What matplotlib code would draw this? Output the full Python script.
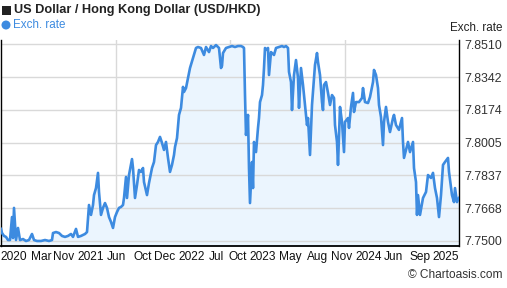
import matplotlib
matplotlib.use("Agg")
import matplotlib.pyplot as plt
from matplotlib.patches import Rectangle, Ellipse

plt.rcParams['font.family'] = ['Liberation Sans', 'DejaVu Sans']

# time position along the chart (arbitrary units, 0..458) and USD/HKD rate
t = [0, 1, 3, 5, 7, 9, 11, 12, 13, 15, 17, 19, 22, 25, 28, 31, 33, 36, 40, 44,
     48, 51, 52, 55, 58, 61, 64, 67, 70, 72, 75, 77, 80, 82, 84, 86, 88, 90, 92, 93,
     95, 97, 98, 100, 102, 104, 106, 108, 110, 112, 114, 116, 118, 120, 122, 123, 125, 126, 128, 131,
     132, 134, 136, 138, 140, 142, 143, 146, 148, 151, 153, 155, 157, 159, 161, 163, 165, 167, 169, 171,
     173, 174, 176, 178, 180, 182, 183, 185, 187, 189, 192, 195, 197, 200, 203, 205, 208, 210, 212, 215,
     218, 220, 221, 222, 225, 228, 231, 234, 237, 240, 242, 243, 244, 245, 247, 248, 249, 251, 252, 253,
     255, 257, 258, 259, 261, 262, 263, 264, 266, 267, 268, 270, 273, 275, 278, 281, 283, 285, 287, 288,
     290, 291, 293, 295, 297, 298, 300, 302, 304, 306, 307, 309, 311, 313, 314, 316, 317, 319, 321, 322,
     323, 325, 327, 329, 331, 333, 334, 336, 337, 339, 341, 343, 344, 347, 348, 350, 352, 353, 355, 358,
     361, 362, 364, 367, 369, 372, 373, 375, 377, 378, 380, 382, 383, 385, 387, 389, 392, 393, 395, 398,
     401, 402, 403, 405, 407, 409, 412, 413, 415, 416, 417, 419, 422, 425, 427, 430, 432, 434, 436, 438,
     440, 442, 444, 447, 448, 451, 453, 454, 456, 458]

rate = [7.7562, 7.7541, 7.7526, 7.7521, 7.7505, 7.7505, 7.7623, 7.7515, 7.7670, 7.7505,
        7.7567, 7.7505, 7.7510, 7.7500, 7.7505, 7.7536, 7.7505, 7.7500, 7.7500, 7.7505,
        7.7500, 7.7505, 7.7541, 7.7546, 7.7541, 7.7526, 7.7521, 7.7526, 7.7536, 7.7521,
        7.7562, 7.7521, 7.7526, 7.7531, 7.7536, 7.7546, 7.7685, 7.7634, 7.7685, 7.7736,
        7.7772, 7.7850, 7.7752, 7.7634, 7.7670, 7.7695, 7.7670, 7.7623, 7.7598, 7.7567,
        7.7623, 7.7649, 7.7670, 7.7675, 7.7685, 7.7721, 7.7829, 7.7721, 7.7839, 7.7921,
        7.7875, 7.7721, 7.7788, 7.7865, 7.7855, 7.7875, 7.7803, 7.7736, 7.7798, 7.7875,
        7.7906, 7.7993, 7.8009, 7.8035, 7.8004, 7.7968, 7.8009, 7.7927, 7.7855, 7.7891,
        7.7942, 7.7983, 7.8029, 7.8148, 7.8184, 7.8292, 7.8266, 7.8286, 7.8338, 7.8389,
        7.8441, 7.8492, 7.8497, 7.8492, 7.8456, 7.8497, 7.8471, 7.8502, 7.8492, 7.8507,
        7.8492, 7.8389, 7.8400, 7.8466, 7.8492, 7.8497, 7.8502, 7.8497, 7.8502, 7.8502,
        7.8497, 7.8492, 7.8250, 7.8045, 7.8148, 7.7875, 7.7695, 7.7906, 7.7772, 7.8009,
        7.7957, 7.8081, 7.8132, 7.8214, 7.8250, 7.8302, 7.8389, 7.8492, 7.8482, 7.8492,
        7.8353, 7.8471, 7.8456, 7.8492, 7.8497, 7.8502, 7.8497, 7.8502, 7.8492, 7.8369,
        7.8317, 7.8173, 7.8353, 7.8430, 7.8338, 7.8184, 7.8389, 7.8302, 7.8199, 7.8096,
        7.8132, 7.7942, 7.8199, 7.8338, 7.8405, 7.8466, 7.8420, 7.8353, 7.8214, 7.8173,
        7.8302, 7.8317, 7.8261, 7.8199, 7.8250, 7.8235, 7.8096, 7.8009, 7.7891, 7.8189,
        7.8112, 7.7957, 7.8112, 7.8132, 7.8081, 7.8189, 7.8261, 7.8163, 7.8214, 7.8214,
        7.8235, 7.8286, 7.8214, 7.8209, 7.8240, 7.8317, 7.8379, 7.8353, 7.8286, 7.8199,
        7.8137, 7.7993, 7.8112, 7.8189, 7.8112, 7.8060, 7.8132, 7.8148, 7.8096, 7.8071,
        7.8132, 7.8009, 7.7927, 7.7968, 7.8009, 7.7957, 7.8009, 7.7875, 7.7803, 7.7634,
        7.7736, 7.7634, 7.7721, 7.7752, 7.7839, 7.7824, 7.7850, 7.7772, 7.7721, 7.7623,
        7.7736, 7.7891, 7.7906, 7.7927, 7.7855, 7.7736, 7.7700, 7.7772, 7.7700, 7.7721]

y_ticks = [7.7500, 7.7668, 7.7837, 7.8005, 7.8174, 7.8342, 7.8510]
y_tick_labels = ["7.7500", "7.7668", "7.7837", "7.8005", "7.8174", "7.8342", "7.8510"]

x_tick_pos = [13, 40, 63, 89.5, 115.5, 141.5, 163.5, 190.5, 215.5, 236.5, 261.5,
              289.5, 316.5, 341, 367.5, 392.5, 419.5, 444.5]
x_tick_labels = ["2020", "Mar", "Nov", "2021", "Jun", "Oct", "Dec", "2022", "Jul",
                 "Oct", "2023", "May", "Aug", "Nov", "2024", "Jun", "Sep", "2025"]
x_grid = [114.5, 229, 343.5]

W, H = 507, 288
fig = plt.figure(figsize=(W / 100, H / 100), dpi=100)
ax = fig.add_axes([1 / W, (H - 245.7) / H, 458 / W, 205.7 / H])

line_color = '#3d8be0'
ax.fill_between(t, rate, 7.7, color='#ebf5fe', zorder=1, linewidth=0)
ax.plot(t, rate, color=line_color, lw=1.9, zorder=3, solid_joinstyle='round')

ax.set_xlim(0, 458)
ax.set_ylim(7.74758, 7.8533)

ax.set_yticks(y_ticks)
ax.set_yticklabels(y_tick_labels)
ax.yaxis.tick_right()
ax.tick_params(axis='y', length=0, pad=3.6, labelsize=8.9, labelcolor='#333333')
ax.set_xticks(x_tick_pos)
ax.set_xticklabels(x_tick_labels)
ax.tick_params(axis='x', length=0, pad=4.0, labelsize=8.6, labelcolor='#111111')

ax.grid(axis='y', color='#d9d9d9', lw=1.0, zorder=0)
for xg in x_grid:
    ax.axvline(xg, color='#d9d9d9', lw=1.0, zorder=0)

ax.spines['top'].set_visible(False)
for s in ['left', 'right', 'bottom']:
    ax.spines[s].set_color('black')
    ax.spines[s].set_linewidth(1.0)
ax.spines['bottom'].set_linewidth(1.3)

# title with square marker (figure pixel coordinates, origin bottom-left)
fig.patches.append(Rectangle((2 / W, (H - 14.5) / H), 8.5 / W, 9 / H, transform=fig.transFigure,
                             facecolor='#222222', edgecolor='none'))
fig.text(14 / W, 1 - 10.5 / H, 'US Dollar / Hong Kong Dollar (USD/HKD)', fontsize=9.2,
         fontweight='bold', color='#222222', va='center', ha='left')
# legend
fig.patches.append(Ellipse((6 / W, (H - 25) / H), 9 / W, 9 / H, transform=fig.transFigure,
                           facecolor=line_color, edgecolor='none'))
fig.text(13 / W, 1 - 25 / H, 'Exch. rate', fontsize=8.4, color=line_color, va='center', ha='left')

fig.text(503 / W, 1 - 28 / H, 'Exch. rate', fontsize=8.4, color='#222222', va='center', ha='right')
fig.text(502 / W, 1 - 275 / H, '\u00A9 Chartoasis.com', fontsize=8.6, color='#333333',
         va='center', ha='right')

fig.savefig('out.png', dpi=100)
